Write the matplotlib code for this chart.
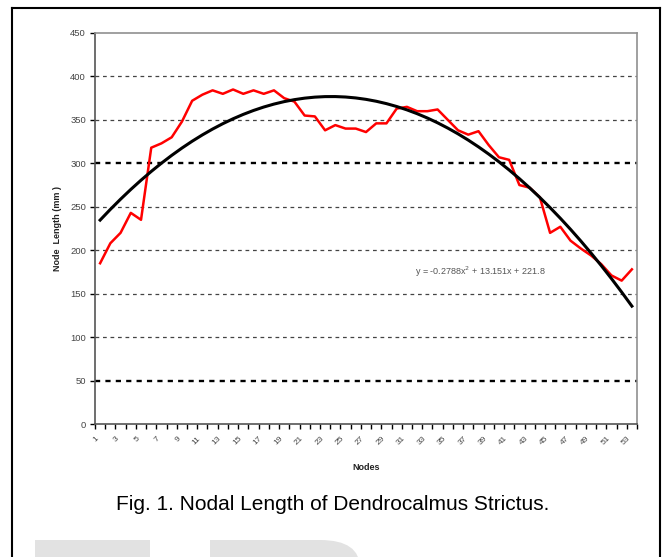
import matplotlib.pyplot as plt
import numpy as np
from matplotlib.lines import Line2D
from matplotlib.patches import Rectangle, FancyBboxPatch

plt.rcParams['font.family'] = ['Liberation Sans', 'DejaVu Sans']

# ── data ────────────────────────────────────────────────────────
nodes = np.arange(1, 54)
node_length = [185, 208, 220, 243, 235, 318, 323, 330, 348, 372,
               379, 384, 380, 385, 380, 384, 380, 384, 375, 371,
               355, 354, 338, 344, 340, 340, 336, 346, 346, 363,
               365, 360, 360, 362, 350, 338, 333, 337, 321, 307,
               304, 275, 272, 261, 220, 227, 211, 202, 194, 184,
               171, 165, 178]
# quadratic trendline coefficients (as printed on the chart)
fit_a, fit_b, fit_c = -0.2788, 13.151, 221.8
fit_label = r"y = -0.2788x$^2$ + 13.151x + 221.8"

y_ticks = np.arange(0, 451, 50)
x_ticklabels = [str(n) for n in nodes[::2]]
# ─────────────────────────────────────────────────────────────────

W, H = 665, 557
fig = plt.figure(figsize=(6.65, 5.57), dpi=100)
ax = fig.add_axes([95/W, 1 - 424/H, 542/W, 391/H])

# grid lines (dashed)
for yv in y_ticks[1:-1]:
    heavy = yv in (50, 300)
    ax.axhline(yv, color='black' if heavy else '#444444',
               lw=1.7 if heavy else 0.9, ls=(0, (2.2, 2.2)) if heavy else (0, (3, 3)),
               zorder=1)

ax.plot(nodes, node_length, color='red', lw=1.8, zorder=3)
fit = fit_a * nodes**2 + fit_b * nodes + fit_c
ax.plot(nodes, fit, color='black', lw=2.2, zorder=4)

ax.text(38.2, 175, fit_label, fontsize=6.5, color='#555555', ha='center', va='center')

ax.set_xlim(0.5, 53.5)
ax.set_ylim(0, 450)
ax.set_yticks(y_ticks)
ax.set_yticklabels([str(v) for v in y_ticks], fontsize=6.8, color='#444444')
ax.set_xticks(nodes[::2])
ax.set_xticklabels(x_ticklabels, fontsize=6, color='#444444', rotation=45,
                   ha='right', va='top')
ax.set_xticks(np.arange(0.5, 54, 1), minor=True)
ax.tick_params(axis='x', which='major', length=0, pad=8)
ax.tick_params(axis='x', which='minor', length=3.5, width=1, color='black', direction='out')
ax.tick_params(axis='y', length=3.5, width=1, direction='out', pad=3)

for s in ['top', 'right']:
    ax.spines[s].set_color('#909090')
    ax.spines[s].set_linewidth(1.2)
for s in ['left', 'bottom']:
    ax.spines[s].set_color('#555555')
    ax.spines[s].set_linewidth(1.2)

ax.set_ylabel("Node  Length (mm )", fontsize=6.5, weight='bold', color='#222222', labelpad=6)
ax.set_xlabel("Nodes", fontsize=6.5, weight='bold', color='#222222', labelpad=12)

# outer frame
for xs, ys in [([12, 12], [0, 8]), ([12, 660], [8, 8]), ([660, 660], [8, 0])]:
    fig.add_artist(Line2D([x / W for x in xs], [1 - 8 / H if y == 8 else 0 for y in ys],
                          color='black', lw=1.5, transform=fig.transFigure))

fig.text(0.5, 1 - 504 / H, "Fig. 1. Nodal Length of Dendrocalmus Strictus.",
         fontsize=15, ha='center', va='center', color='black')

# faint watermark shapes at the bottom edge
wm = '#e2e2e2'
fig.add_artist(Rectangle((35 / W, 0), 115 / W, 17 / H, transform=fig.transFigure,
                         color=wm, lw=0, zorder=0))
fig.add_artist(FancyBboxPatch((210 / W, -40 / H), 150 / W, 57 / H,
                              boxstyle="round,pad=0,rounding_size=0.06",
                              transform=fig.transFigure, color=wm, lw=0, zorder=0,
                              mutation_aspect=H / W))
fig.add_artist(Rectangle((210 / W, 0), 60 / W, 17 / H, transform=fig.transFigure,
                         color=wm, lw=0, zorder=0))

fig.savefig("out.png", dpi=100)
